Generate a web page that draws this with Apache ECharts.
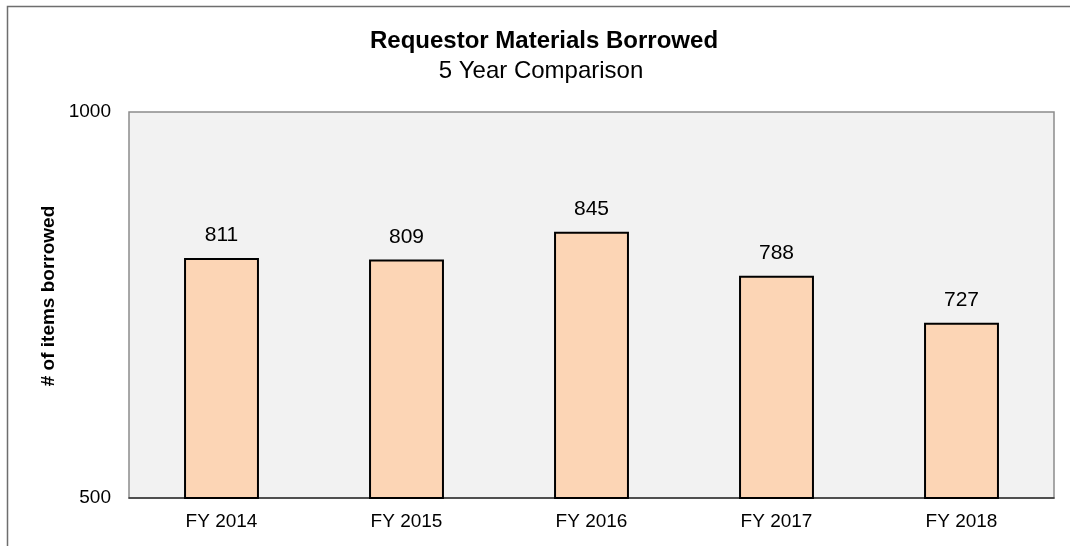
<!DOCTYPE html>
<html><head><meta charset="utf-8">
<script src="https://cdn.jsdelivr.net/npm/echarts@6/dist/echarts.min.js"></script>
<style>html,body{margin:0;padding:0;background:#fff;}#c{width:1070px;height:546px;}</style>
</head><body><div id="c"></div>
<script>
const categories = ['FY 2014','FY 2015','FY 2016','FY 2017','FY 2018'];
const borrowed = [811, 809, 845, 788, 727];
const yTicks = [500, 1000];

const chart = echarts.init(document.getElementById('c'));
const FONT = '"Liberation Sans", Arial, sans-serif';
chart.setOption({
  animation: false,
  backgroundColor: '#fff',
  graphic: [
    {type: 'rect', shape: {x: 7.5, y: 6.5, width: 1200, height: 700},
     style: {fill: 'none', stroke: '#6e6e6e', lineWidth: 1.5}, z: -1},
    {type: 'text', x: 544, y: 41, style: {text: 'Requestor Materials Borrowed', align: 'center', verticalAlign: 'middle',
      font: 'bold 24px ' + FONT, fill: '#000'}},
    {type: 'text', x: 541, y: 71, style: {text: '5 Year Comparison', align: 'center', verticalAlign: 'middle',
      font: 'normal 24px ' + FONT, fill: '#000'}},
    {type: 'text', x: 49, y: 296, rotation: Math.PI / 2, style: {text: '# of items borrowed', align: 'center', verticalAlign: 'middle',
      font: 'bold 19px ' + FONT, fill: '#000'}}
  ],
  grid: {left: 129, right: 16, top: 112, bottom: 48, show: true,
    backgroundColor: '#f2f2f2', borderColor: '#8c8c8c', borderWidth: 1.5},
  xAxis: {type: 'category', data: categories,
    axisLine: {show: true, lineStyle: {color: '#333', width: 1.5}},
    axisTick: {show: false},
    axisLabel: {fontFamily: FONT, fontSize: 19, color: '#000', margin: 14}},
  yAxis: {type: 'value', min: yTicks[0], max: yTicks[1], interval: yTicks[1]-yTicks[0],
    axisLine: {show: false}, axisTick: {show: false}, splitLine: {show: false},
    axisLabel: {fontFamily: FONT, fontSize: 19, color: '#000', margin: 18, formatter: v => String(v)}},
  series: [{type: 'bar', data: borrowed, barWidth: '40.5%',
    itemStyle: {color: '#fcd5b5', borderColor: '#000', borderWidth: 2},
    label: {show: true, position: 'top', distance: 12, fontFamily: FONT, fontSize: 21, color: '#000'}}]
});
</script></body></html>
